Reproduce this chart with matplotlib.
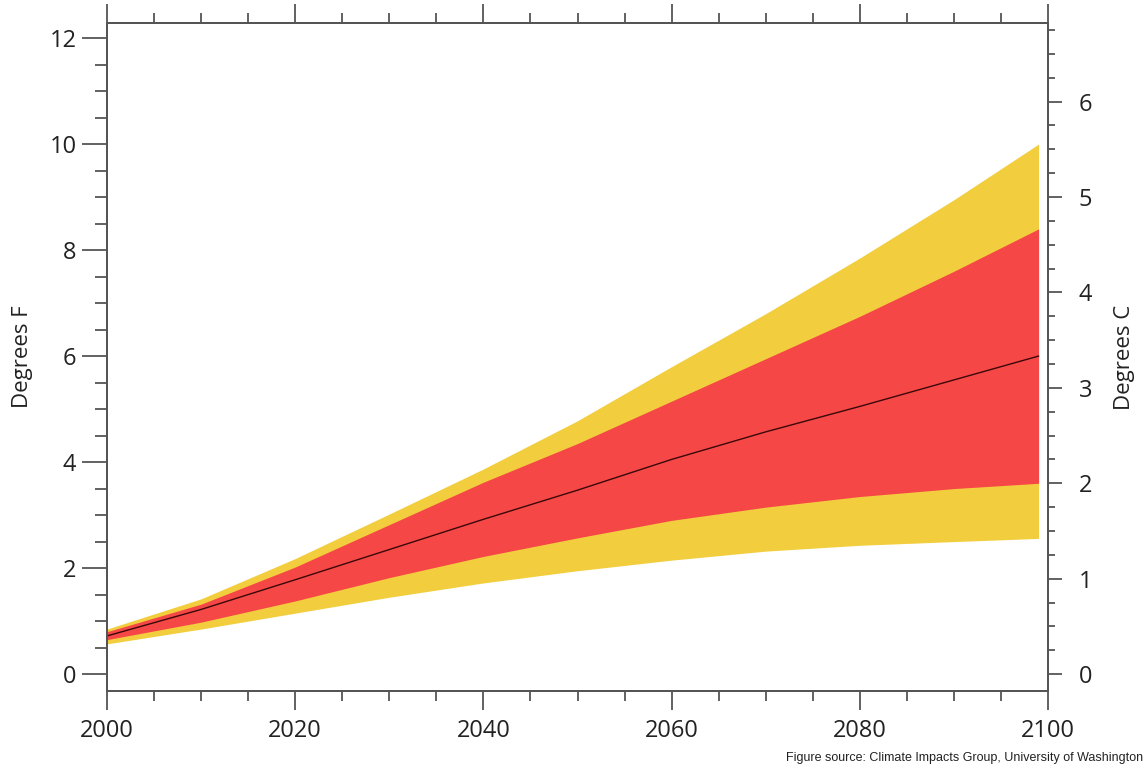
import numpy as np
import matplotlib.pyplot as plt
from matplotlib.ticker import MultipleLocator

plt.rcParams['font.family'] = ['Open Sans', 'DejaVu Sans']

years = [2000, 2010, 2020, 2030, 2040, 2050, 2060, 2070, 2080, 2090, 2099]
yellow_hi = [0.85, 1.42, 2.18, 3.02, 3.87, 4.78, 5.80, 6.80, 7.85, 8.95, 10.0]
red_hi = [0.80, 1.32, 2.02, 2.82, 3.62, 4.35, 5.15, 5.95, 6.75, 7.60, 8.40]
median = [0.72, 1.22, 1.78, 2.35, 2.92, 3.47, 4.05, 4.57, 5.05, 5.55, 6.00]
red_lo = [0.65, 0.98, 1.38, 1.82, 2.22, 2.57, 2.90, 3.15, 3.35, 3.50, 3.60]
yellow_lo = [0.57, 0.85, 1.15, 1.45, 1.72, 1.95, 2.15, 2.32, 2.43, 2.50, 2.56]

yellow = '#F2CE3E'
red = '#F64747'
axcol = '#555555'

fig = plt.figure(figsize=(11.48, 7.73), dpi=100)
ax = fig.add_axes([0.0932, 0.106, 0.8197, 0.864])

ax.fill_between(years, yellow_lo, yellow_hi, color=yellow, lw=0)
ax.fill_between(years, red_lo, red_hi, color=red, lw=0)
ax.plot(years, median, color='#3a0808', lw=1.0)

ax.set_xlim(2000, 2100)
ax.set_ylim(-0.32, 12.28)

ax.xaxis.set_major_locator(MultipleLocator(20))
ax.xaxis.set_minor_locator(MultipleLocator(5))
ax.yaxis.set_major_locator(MultipleLocator(2))
ax.yaxis.set_minor_locator(MultipleLocator(0.5))

ax.tick_params(axis='x', which='both', direction='out', top=True, bottom=True,
               colors=axcol, labelcolor='#222222', labelsize=17, width=1.3, pad=6)
ax.tick_params(axis='x', which='major', length=14)
ax.tick_params(axis='x', which='minor', length=7)
ax.tick_params(axis='y', which='both', direction='out', right=False,
               colors=axcol, labelcolor='#222222', labelsize=17, width=1.3, pad=4)
ax.tick_params(axis='y', which='major', length=18)
ax.tick_params(axis='y', which='minor', length=9)

for s in ax.spines.values():
    s.set_color(axcol)
    s.set_linewidth(1.4)

ax.set_ylabel('Degrees F', fontsize=16, color='#222222', labelpad=12)

ax2 = ax.twinx()
ax2.set_ylim(-0.32 / 1.8, 12.28 / 1.8)
ax2.yaxis.set_major_locator(MultipleLocator(1))
ax2.yaxis.set_minor_locator(MultipleLocator(0.25))
ax2.tick_params(axis='y', which='both', direction='out', colors=axcol,
                labelcolor='#222222', labelsize=17, width=1.3, pad=12)
ax2.tick_params(axis='y', which='major', length=10)
ax2.tick_params(axis='y', which='minor', length=5)
for s in ax2.spines.values():
    s.set_color(axcol)
    s.set_linewidth(1.4)
ax2.set_ylabel('Degrees C', fontsize=16, color='#222222', labelpad=16)

fig.text(0.996, 0.012, 'Figure source: Climate Impacts Group, University of Washington',
         ha='right', va='bottom', fontsize=9, color='#222222', family='Liberation Sans')

fig.savefig('out.png', dpi=100)
